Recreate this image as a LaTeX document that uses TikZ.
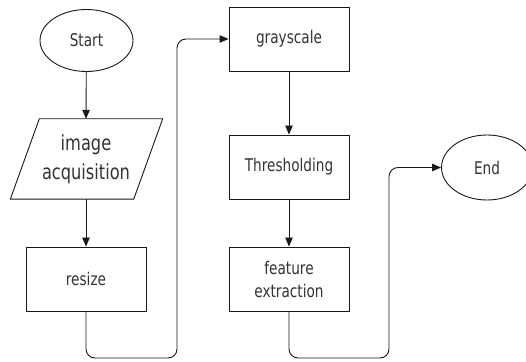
\documentclass[tikz,border=0pt]{standalone}
\usepackage{fontspec}
\setmainfont{DejaVu Sans}[FakeStretch=0.78]
\usetikzlibrary{shapes.geometric,arrows.meta}
\begin{document}
\begin{tikzpicture}[x=1pt,y=1pt,
  every node/.style={font=\fontsize{17.5}{23}\selectfont, text=black!80, align=center},
  line/.style={line width=0.9pt, draw=black!90},
  arr/.style={line, -{Triangle[length=9pt,width=7.5pt]}},
  terminal/.style={ellipse, line, minimum width=93pt, minimum height=62pt, inner sep=0pt},
  procbox/.style={rectangle, line, minimum width=120pt, minimum height=64pt, inner sep=0pt},
  iobox/.style={rectangle, minimum width=123pt, minimum height=80pt, inner sep=0pt,
    font=\fontsize{20.8}{29}\selectfont}]
\useasboundingbox (0,0) rectangle (526,361);
\fill[white] (0,0) rectangle (526,361);

% left column
\node[terminal] (start) at (86.5,320.5) {Start};
\node[iobox] (acq) at (86,202) {image\\acquisition};
\draw[line] ([xshift=15pt]acq.north west) -- ([xshift=15pt]acq.north east)
  -- ([xshift=-14pt]acq.south east) -- ([xshift=-14pt]acq.south west) -- cycle;
\node[procbox] (resize) at (86,82) {resize};

% middle column
\node[procbox] (gray) at (289,322) {grayscale};
\node[procbox] (thr) at (289,194) {Thresholding};
\node[procbox] (feat) at (289,82) {feature\\extraction};

% end
\node[terminal, minimum width=91pt, minimum height=65pt] (end) at (487,193.5) {End};

% connectors
\draw[arr] (start) -- (acq.north);
\draw[arr] (acq.south) -- (resize.north);
\draw[arr, rounded corners=9pt] (resize.south) |- (177,3) |- (gray.west);
\draw[arr] (gray) -- (thr);
\draw[arr] (thr) -- (feat);
\draw[arr, rounded corners=9pt] (feat.south) |- (389,3) |- (end.west);
\end{tikzpicture}
\end{document}
